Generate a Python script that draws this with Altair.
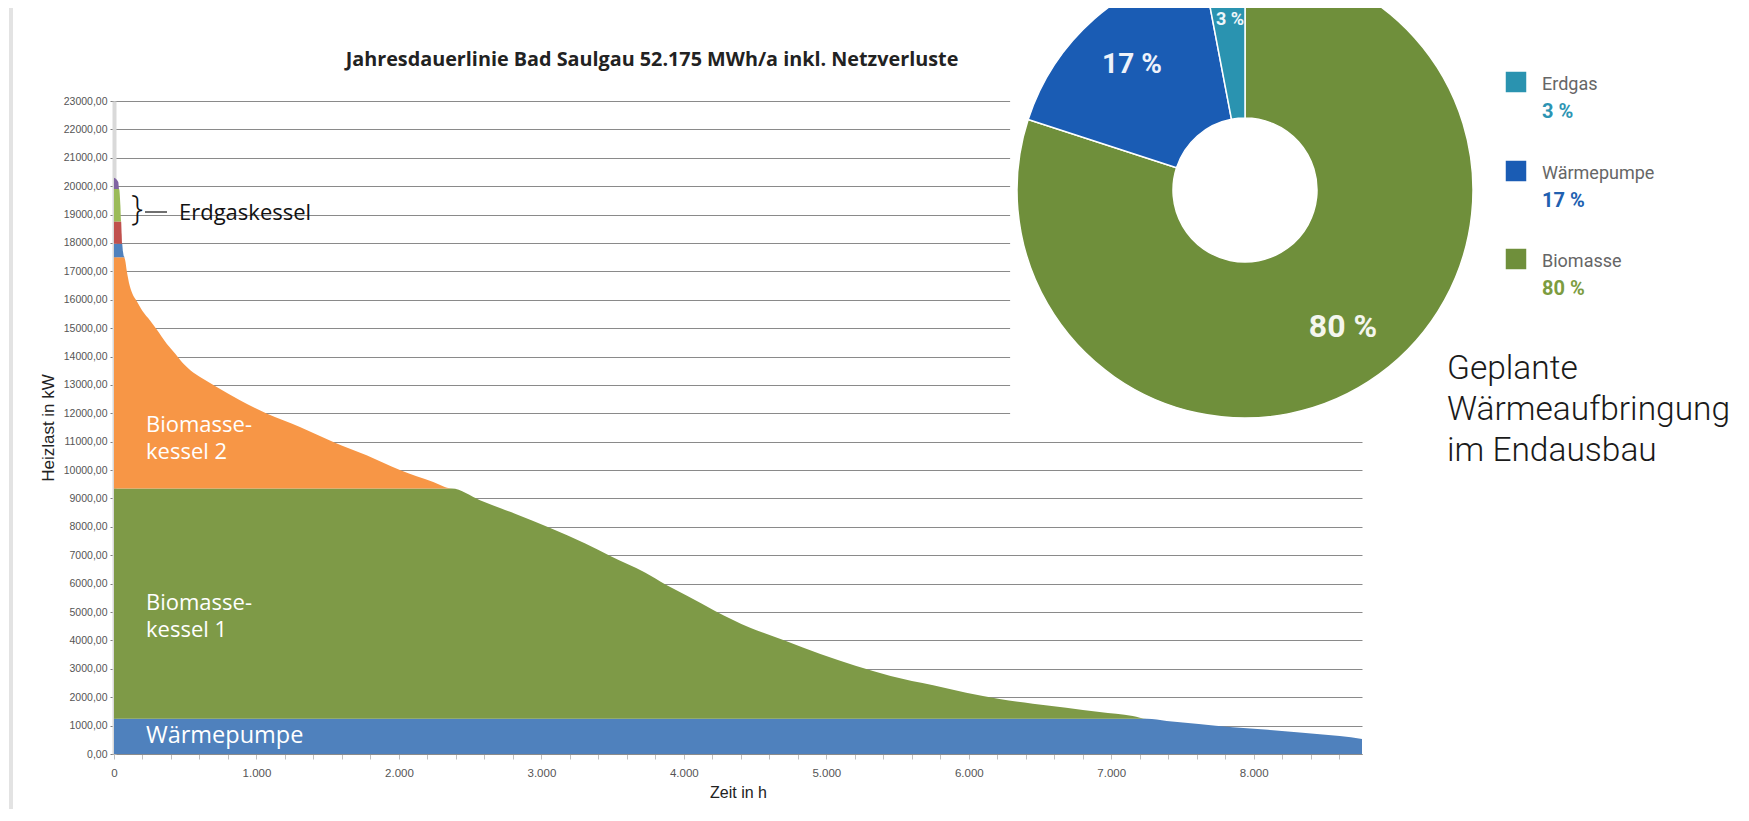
import altair as alt
import pandas as pd

# ---------------- data ----------------
hours = [0, 30, 36, 45, 50, 54, 57, 63, 70, 78, 90, 105, 130, 160, 200, 253, 300, 370, 430, 486,
         540, 604, 721, 884, 1071, 1305, 1539, 1773, 2007, 2241, 2370, 2569, 2815, 3062, 3308, 3480,
         3727, 3874, 4022, 4219, 4465, 4712, 4958, 5204, 5451, 5750, 5982, 6216, 6450, 6684, 6918,
         7151, 7250, 7389, 7614, 7853, 8100, 8323, 8604, 8760]
load_kw = [20300, 20150, 19900, 19300, 18760, 18300, 17970, 17700, 17520, 17400, 17000, 16600, 16200,
           15950, 15600, 15270, 14950, 14450, 14100, 13750, 13500, 13280, 12930, 12460, 11990, 11520,
           10990, 10520, 10000, 9580, 9350, 8940, 8460, 7960, 7410, 6980, 6390, 5960, 5570, 5040,
           4450, 3990, 3520, 3110, 2750, 2420, 2160, 1935, 1770, 1630, 1480, 1340, 1240, 1160, 1055,
           940, 850, 760, 630, 530]

layer_names = ["Wärmepumpe", "Biomassekessel 1", "Biomassekessel 2", "Stufe 4", "Stufe 5", "Stufe 6", "Stufe 7"]
layer_lo = [0, 1240, 9350, 17500, 17970, 18760, 19900]
layer_hi = [1240, 9350, 17500, 17970, 18760, 19900, 20300]
layer_colors = ["#4F81BD", "#7E9A47", "#F79646", "#4F81BD", "#C0504D", "#9BBB59", "#8064A2"]

y_ticks = list(range(0, 23001, 1000))
x_ticks = list(range(0, 8761, 200))

pie_names = ["Biomasse", "Wärmepumpe", "Erdgas"]
pie_values = [80, 17, 3]
pie_colors = ["#6F8F3B", "#1A5CB4", "#2A93B0"]

# white box of the inserted picture (in data units)
box_h = [6290, 9000]
box_kw = [11600, 23600]

title_text = "Jahresdauerlinie Bad Saulgau 52.175 MWh/a inkl. Netzverluste"
side_text = ["Geplante", "Wärmeaufbringung", "im Endausbau"]

df = pd.DataFrame({"h": hours, "load": load_kw})

xscale = alt.Scale(domain=[0, 8760], nice=False, zero=True)
yscale = alt.Scale(domain=[0, 23000], nice=False, zero=True)

yaxis = alt.Axis(values=y_ticks, labelExpr="replace(format(datum.value, '.2f'), '.', ',')",
                 title="Heizlast in kW", grid=True, gridColor="#8A8A8A", gridWidth=1,
                 domainColor="#D9D9D9", domainWidth=4, tickColor="#7F7F7F", tickSize=4,
                 labelPadding=3, labelFont="Liberation Sans", labelFontSize=10.5, labelColor="#555555",
                 titleFont="Liberation Sans", titleFontSize=17, titleFontWeight="normal",
                 titleColor="#222222", titlePadding=6, labelOverlap=False, zindex=0)
xaxis = alt.Axis(values=x_ticks,
                 labelExpr="datum.value % 1000 == 0 ? replace(format(datum.value, ','), ',', '.') : ''",
                 grid=False, domainColor="#8C8C8C", tickColor="#BFBFBF", tickSize=5, labelPadding=8,
                 labelFont="Liberation Sans", labelFontSize=11.5, labelColor="#555555",
                 title="Zeit in h", titleFont="Liberation Sans", titleFontSize=16,
                 titleFontWeight="normal", titleColor="#222222", titlePadding=6,
                 labelOverlap=False, labelFlush=False, zindex=0)

layers = []
for name, lo, hi, col in zip(layer_names, layer_lo, layer_hi, layer_colors):
    layers.append(
        alt.Chart(df)
        .transform_calculate(top=f"clamp(datum.load, {lo}, {hi})", bottom=f"{lo}")
        .mark_area(color=col, interpolate="monotone")
        .encode(x=alt.X("h:Q", scale=xscale, axis=xaxis),
                y=alt.Y("top:Q", scale=yscale, axis=yaxis),
                y2="bottom:Q")
    )

box = alt.Chart(pd.DataFrame({"x0": [box_h[0]], "x1": [box_h[1]], "y0": [box_kw[0]], "y1": [box_kw[1]]})).mark_rect(
    color="white").encode(x=alt.X("x0:Q", scale=xscale, axis=xaxis), x2="x1:Q",
                          y=alt.Y("y0:Q", scale=yscale, axis=yaxis), y2="y1:Q")
layers.append(box)

one = pd.DataFrame({"a": [0]})


def txt(t, x, y, size, color="#000000", weight="normal", font="Open Sans", align="left",
        baseline="middle", line_height=None):
    kw = dict(text=t, font=font, fontSize=size, fontWeight=weight, color=color,
              align=align, baseline=baseline)
    if line_height is not None:
        kw["lineHeight"] = line_height
    return alt.Chart(one).mark_text(**kw).encode(x=alt.value(x), y=alt.value(y))


# frame line on the left
layers.append(alt.Chart(one).mark_rule(color="#E3E3E3", strokeWidth=4).encode(
    x=alt.value(-103), y=alt.value(-93), y2=alt.value(712)))

# title
layers.append(txt(title_text, 538, -41, 19.8, "#222222", "bold", align="center"))

# region labels
layers.append(txt("Biomasse-", 32, 324, 22, "white"))
layers.append(txt("kessel 2", 32, 351, 22, "white"))
layers.append(txt("Biomasse-", 32, 502, 22, "white"))
layers.append(txt("kessel 1", 32, 529, 22, "white"))
layers.append(txt("Wärmepumpe", 32, 635, 23.5, "white"))

# Erdgaskessel annotation
layers.append(txt("}", 23, 109, 34, "#111111", 300, align="center"))
layers.append(alt.Chart(one).mark_rule(color="#111111", strokeWidth=1.2).encode(
    x=alt.value(31), x2=alt.value(53), y=alt.value(111)))
layers.append(txt("Erdgaskessel", 65, 112, 22, "#111111"))

# pie
pie_df = pd.DataFrame({"name": pie_names, "value": pie_values, "idx": list(range(len(pie_names)))})
pie = alt.Chart(pie_df).mark_arc(outerRadius=228, innerRadius=72, stroke="white", strokeWidth=1.5).encode(
    theta=alt.Theta("value:Q", stack=True),
    color=alt.Color("name:N", scale=alt.Scale(domain=pie_names, range=pie_colors), legend=None),
    order=alt.Order("idx:Q"),
    x=alt.value(1131), y=alt.value(89))
layers.append(pie)

layers.append(txt("17 %", 1018, -36, 28, "#EEF2FA", "bold", font="Roboto", align="center"))
layers.append(txt("80 %", 1229, 226, 32, "#F4F6EE", "bold", font="Roboto", align="center"))
layers.append(txt("3 %", 1116, -81, 18, "#EEF6FA", "bold", font="Roboto", align="center"))

# picture legend
leg_y = [-19, 70, 158]
leg_pct_colors = ["#2C94B3", "#2060B0", "#7C9C40"]
for i, (nm, val) in enumerate(zip(["Erdgas", "Wärmepumpe", "Biomasse"], [3, 17, 80])):
    col = pie_colors[pie_names.index(nm)]
    layers.append(alt.Chart(one).mark_square(size=420, color=col, opacity=1).encode(
        x=alt.value(1402), y=alt.value(leg_y[i])))
    layers.append(txt(nm, 1428, leg_y[i] + 3, 18, "#666666", font="Roboto"))
    layers.append(txt(f"{val} %", 1428, leg_y[i] + 30, 20, leg_pct_colors[i], "bold", font="Roboto"))

# side text (one multi-line block)
layers.append(txt(side_text, 1333, 252, 33.5, "#1A1A1A", 300, font="Roboto", baseline="top", line_height=41))

chart = alt.layer(*layers).properties(
    width=1248, height=653,
    autosize=alt.AutoSizeParams(type="none"),
    padding={"left": 106, "top": 93, "right": 379, "bottom": 55},
).configure_view(strokeWidth=0)

chart.save("out.html", embed_options={"renderer": "svg", "actions": False})
